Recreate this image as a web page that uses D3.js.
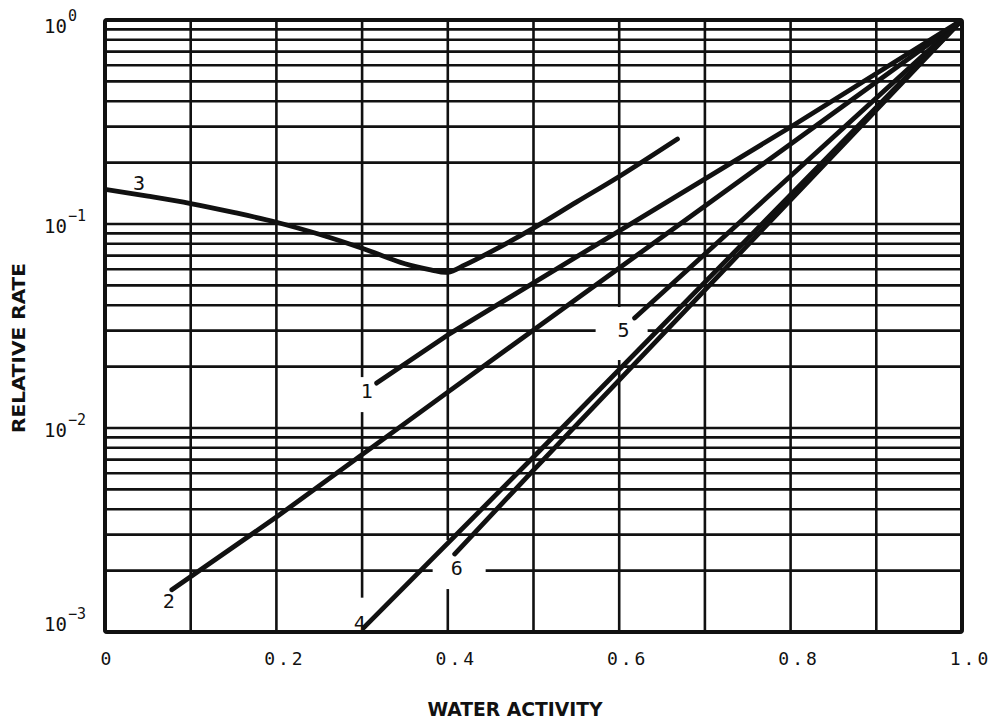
<!DOCTYPE html>
<html>
<head>
<meta charset="utf-8">
<script src="https://cdn.jsdelivr.net/npm/d3@7/dist/d3.min.js"></script>
<style>
  html, body { margin: 0; padding: 0; background: #fff; }
  svg { display: block; }
</style>
</head>
<body>
<svg id="chart" width="1003" height="722"></svg>
<script>
// Relative reaction rate versus water activity (log scale), six numbered curves.
const xTicks = [0, 0.2, 0.4, 0.6, 0.8, 1.0];
const xTickLabels = ["0", "0.2", "0.4", "0.6", "0.8", "1.0"];
const yDecades = [1e-3, 1e-2, 1e-1, 1e0];
const yExponents = ["-3", "-2", "-1", "0"];

const curveNames = ["1", "2", "3", "4", "5", "6"];
const curve1 = [[0.317, 0.0166], [0.40, 0.0286], [0.80, 0.299], [1.0, 1.0]];
const curve2 = [[0.078, 0.00161], [0.20, 0.00366], [0.40, 0.0150], [1.0, 1.0]];
const curve3 = [[0.00, 0.148], [0.05, 0.137], [0.10, 0.126], [0.15, 0.114], [0.20, 0.102],
                [0.25, 0.089], [0.30, 0.076], [0.35, 0.0638], [0.38, 0.0596], [0.40, 0.058],
                [0.42, 0.063], [0.45, 0.073], [0.50, 0.0955], [0.55, 0.128], [0.60, 0.171],
                [0.668, 0.261]];
const curve4 = [[0.302, 0.00105], [0.50, 0.00721], [1.0, 1.0]];
const curve5 = [[0.618, 0.0346], [1.0, 1.0]];
const curve6 = [[0.408, 0.00241], [0.50, 0.00622], [1.0, 1.0]];
const curves = [curve1, curve2, curve3, curve4, curve5, curve6];

// Layout
const plotL = 105, plotR = 962, plotT = 20, plotB = 632;
const x = d3.scaleLinear().domain([0, 1]).range([plotL, plotR]);
const y = d3.scaleLog().domain([1e-3, 1]).range([plotB, plotT]);

const svg = d3.select("#chart");
const ink = "#111";

// Grid: verticals every 0.1, horizontals at 1..9 of each decade
const grid = svg.append("g").attr("stroke", ink).attr("stroke-width", 2.6);
grid.selectAll("line.v").data(x.ticks(10)).join("line")
  .attr("class", "v")
  .attr("x1", d => x(d)).attr("x2", d => x(d))
  .attr("y1", plotT).attr("y2", plotB);
grid.selectAll("line.h").data(y.ticks()).join("line")
  .attr("class", "h")
  .attr("x1", plotL).attr("x2", plotR)
  .attr("y1", d => y(d)).attr("y2", d => y(d));

// Curve label placement relative to each curve's first point, with the
// white patch cut out of the grid behind it: [dx, dy, gapX0, gapX1, gapY0, gapY1]
const labelLayout = [
  [-10, 8, -17, 13, -14, 21],
  [-3, 11, -7, 7, -8, 8],
  [34, -6, -7, 7, -8, 8],
  [-4, -5, -9, 13, -25, 7],
  [-11, 12, -28, 24, -23, 30],
  [2, 14, -24, 29, -28, 21]
];

const labelPos = curves.map((c, i) => {
  const L = labelLayout[i];
  return { cx: x(c[0][0]) + L[0], cy: y(c[0][1]) + L[1], L };
});

svg.append("g").selectAll("rect").data(labelPos).join("rect")
  .attr("x", d => d.cx + d.L[2])
  .attr("y", d => d.cy + d.L[4])
  .attr("width", d => d.L[3] - d.L[2])
  .attr("height", d => d.L[5] - d.L[4])
  .attr("fill", "#fff");

// Curves
svg.append("clipPath").attr("id", "plotClip")
  .append("rect").attr("x", plotL).attr("y", plotT)
  .attr("width", plotR - plotL).attr("height", plotB - plotT);

const line = d3.line().x(d => x(d[0])).y(d => y(d[1]));
const smooth = d3.line().x(d => x(d[0])).y(d => y(d[1])).curve(d3.curveCatmullRom.alpha(0.5));

svg.append("g").attr("clip-path", "url(#plotClip)")
  .selectAll("path").data(curves).join("path")
  .attr("d", (d, i) => i === 2 ? smooth(d) : line(d))
  .attr("fill", "none")
  .attr("stroke", ink)
  .attr("stroke-width", 4.8)
  .attr("stroke-linecap", "round")
  .attr("stroke-linejoin", "round");

// Frame
svg.append("rect")
  .attr("x", plotL).attr("y", plotT)
  .attr("width", plotR - plotL).attr("height", plotB - plotT)
  .attr("fill", "none").attr("stroke", ink).attr("stroke-width", 4)
  .attr("rx", 2).attr("stroke-linejoin", "round");

// Curve labels
svg.append("g").selectAll("text").data(labelPos).join("text")
  .attr("x", d => d.cx).attr("y", d => d.cy)
  .attr("text-anchor", "middle").attr("dominant-baseline", "central")
  .attr("font-family", "'DejaVu Sans Mono', monospace")
  .attr("font-size", 20).attr("fill", ink)
  .text((d, i) => curveNames[i]);

// X axis labels
const xAxis = d3.axisBottom(x).tickValues(xTicks)
  .tickFormat((d, i) => xTickLabels[i]).tickSize(0).tickPadding(20);
const gx = svg.append("g").attr("transform", `translate(0,${plotB})`).call(xAxis);
gx.select(".domain").remove();
gx.selectAll("text")
  .attr("font-family", "'DejaVu Sans Mono', monospace")
  .attr("font-size", 18).attr("letter-spacing", 3)
  .attr("fill", ink)
  .attr("dx", (d, i) => i === 0 ? 2 : 8);

// Y axis decade labels: 10 with superscript exponent
const gy = svg.append("g");
const yl = gy.selectAll("text").data(yDecades).join("text")
  .attr("x", 44)
  .attr("y", d => Math.min(Math.max(y(d) + 9, 33), 631))
  .attr("font-family", "'DejaVu Sans Mono', monospace")
  .attr("fill", ink);
yl.append("tspan").attr("font-size", 19).text("10");
yl.append("tspan").attr("font-size", 15).attr("dy", -12).attr("dx", 1)
  .text((d, i) => yExponents[i].replace("-", "\u2212"));

// Axis titles
svg.append("text")
  .attr("x", 515).attr("y", 716)
  .attr("text-anchor", "middle")
  .attr("font-family", "'DejaVu Sans Condensed', 'DejaVu Sans', sans-serif")
  .attr("font-stretch", "condensed")
  .attr("font-weight", "bold").attr("font-size", 19)
  .attr("textLength", 175).attr("lengthAdjust", "spacingAndGlyphs")
  .attr("fill", ink)
  .text("WATER ACTIVITY");

svg.append("text")
  .attr("transform", "translate(25,348) rotate(-90)")
  .attr("text-anchor", "middle")
  .attr("font-family", "'DejaVu Sans Condensed', 'DejaVu Sans', sans-serif")
  .attr("font-stretch", "condensed")
  .attr("font-weight", "bold").attr("font-size", 17)
  .attr("textLength", 170).attr("lengthAdjust", "spacingAndGlyphs")
  .attr("fill", ink)
  .text("RELATIVE RATE");
</script>
</body>
</html>
